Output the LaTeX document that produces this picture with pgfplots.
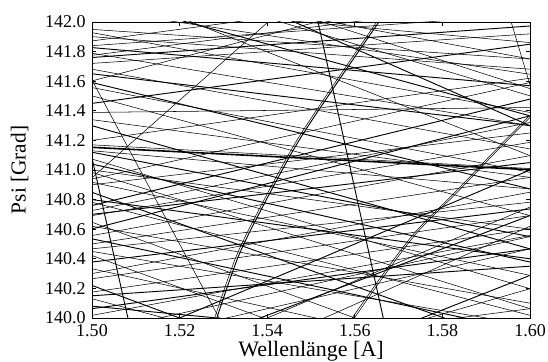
\documentclass[border=0pt]{standalone}
\usepackage{pgfplots}
\pgfplotsset{compat=1.18}
\usepackage{fontspec}
\setmainfont{Liberation Serif}
\begin{document}
\fontsize{13.5}{15}\selectfont
\begin{tikzpicture}
\begin{axis}[
  scale only axis, width=328.5pt, height=222pt,
  xmin=1.50, xmax=1.60, ymin=140.0, ymax=142.0,
  xtick={1.50,1.52,...,1.60}, ytick={140.0,140.2,...,142.0},
  xticklabel style={/pgf/number format/.cd,fixed,fixed zerofill,precision=2},
  yticklabel style={/pgf/number format/.cd,fixed,fixed zerofill,precision=1},
  /pgf/number format/assume math mode=true,
  scaled x ticks=false, scaled y ticks=false,
  tick align=inside, major tick length=3pt, minor tick num=0,
  xtick pos=both, ytick pos=both,
  tick style={black, line width=0.5pt},
  xlabel={\fontsize{16.5}{18}\selectfont Wellenlänge [A]},
  ylabel={\fontsize{16}{18}\selectfont Psi [Grad]},
  xlabel style={at={(axis description cs:0.5,-0.112)}, anchor=center},
  ylabel style={at={(axis description cs:-0.165,0.5)}, anchor=center},
  axis line style={line width=0.6pt},
  cycle list={{black, solid, line width=0.7pt}},
  no marks,
  clip=true,
]
% descending
\addplot coordinates {(1.50,141.928) (1.60,141.389)};
\addplot coordinates {(1.50,141.901) (1.60,141.681)};
\addplot coordinates {(1.50,141.827) (1.60,141.569)};
\addplot coordinates {(1.50,141.789) (1.60,141.299)};
\addplot coordinates {(1.50,141.681) (1.60,141.142)};
\addplot coordinates {(1.50,141.591) (1.60,140.872)};
\addplot coordinates {(1.50,141.557) (1.60,140.984)};
\addplot coordinates {(1.50,141.501) (1.60,140.692)};
\addplot coordinates {(1.50,141.299) (1.60,140.467)};
\addplot coordinates {(1.50,141.130) (1.60,140.872)};
\addplot coordinates {(1.50,141.074) (1.60,140.198)};
\addplot coordinates {(1.50,141.040) (1.60,140.378)};
\addplot coordinates {(1.50,140.984) (1.60,140.063)};
\addplot coordinates {(1.50,140.917) (1.60,140.288)};
\addplot coordinates {(1.50,140.849) (1.60,139.793)};
\addplot coordinates {(1.50,140.782) (1.60,140.018)};
\addplot coordinates {(1.50,140.647) (1.60,139.569)};
\addplot coordinates {(1.50,140.535) (1.60,139.906)};
\addplot coordinates {(1.50,140.422) (1.60,139.344)};
\addplot coordinates {(1.50,140.333) (1.60,139.681)};
\addplot coordinates {(1.50,140.220) (1.60,139.119)};
\addplot coordinates {(1.50,140.130) (1.60,139.344)};
\addplot coordinates {(1.50,142.085) (1.60,141.647)};
\addplot coordinates {(1.50,142.175) (1.60,141.366)};
\addplot coordinates {(1.50,142.378) (1.60,141.501)};
\addplot coordinates {(1.50,142.265) (1.60,141.097)};
\addplot coordinates {(1.50,142.602) (1.60,141.299)};
\addplot coordinates {(1.50,142.130) (1.60,141.861)};
\addplot coordinates {(1.50,141.950) (1.60,141.750)};
\addplot coordinates {(1.50,141.650) (1.60,141.300)};
\addplot coordinates {(1.50,141.340) (1.60,140.950)};
\addplot coordinates {(1.50,141.000) (1.60,140.600)};
\addplot coordinates {(1.50,140.800) (1.60,140.400)};
\addplot coordinates {(1.50,140.620) (1.60,140.100)};
\addplot coordinates {(1.50,140.450) (1.60,139.950)};
\addplot coordinates {(1.50,140.080) (1.60,139.800)};
\addplot coordinates {(1.50,142.300) (1.60,141.750)};
\addplot coordinates {(1.50,142.500) (1.60,141.550)};
\addplot coordinates {(1.50,141.120) (1.60,140.550)};
% ascending
\addplot coordinates {(1.50,141.872) (1.60,142.265)};
\addplot coordinates {(1.50,141.775) (1.60,142.153)};
\addplot coordinates {(1.50,141.760) (1.60,141.973)};
\addplot coordinates {(1.50,141.602) (1.60,142.378)};
\addplot coordinates {(1.50,141.389) (1.60,141.422)};
\addplot+[line width=1.2pt] coordinates {(1.50,141.153) (1.60,141.002)};
\addplot coordinates {(1.50,141.170) (1.60,141.010)};
\addplot coordinates {(1.50,140.939) (1.60,141.591)};
\addplot coordinates {(1.50,140.760) (1.60,141.479)};
\addplot coordinates {(1.50,140.726) (1.60,141.321)};
\addplot coordinates {(1.50,140.692) (1.60,141.187)};
\addplot coordinates {(1.50,140.602) (1.60,141.366)};
\addplot coordinates {(1.50,140.557) (1.60,141.097)};
\addplot coordinates {(1.50,140.467) (1.60,140.782)};
\addplot coordinates {(1.50,140.378) (1.60,140.737)};
\addplot coordinates {(1.50,140.265) (1.60,140.692)};
\addplot coordinates {(1.50,140.175) (1.60,140.602)};
\addplot coordinates {(1.50,140.063) (1.60,140.467)};
\addplot coordinates {(1.50,140.018) (1.60,140.557)};
\addplot coordinates {(1.50,139.793) (1.60,140.467)};
\addplot coordinates {(1.50,139.569) (1.60,140.692)};
\addplot coordinates {(1.50,139.344) (1.60,140.198)};
\addplot coordinates {(1.50,139.681) (1.60,140.063)};
\addplot coordinates {(1.50,139.119) (1.60,140.288)};
\addplot coordinates {(1.50,141.840) (1.60,142.050)};
\addplot coordinates {(1.50,141.720) (1.60,141.920)};
\addplot coordinates {(1.50,141.450) (1.60,141.850)};
\addplot coordinates {(1.50,141.200) (1.60,141.620)};
\addplot coordinates {(1.50,140.900) (1.60,141.250)};
\addplot coordinates {(1.50,140.700) (1.60,141.050)};
\addplot coordinates {(1.50,140.500) (1.60,140.950)};
\addplot coordinates {(1.50,140.300) (1.60,140.850)};
\addplot coordinates {(1.50,140.150) (1.60,140.350)};
\addplot coordinates {(1.50,139.900) (1.60,140.550)};
\addplot coordinates {(1.50,139.500) (1.60,140.750)};
\addplot coordinates {(1.50,139.750) (1.60,141.000)};
\addplot coordinates {(1.50,139.300) (1.60,140.620)};
% steep
\addplot+[smooth] coordinates {(1.5650,142.0) (1.5555,141.591) (1.5465,141.187) (1.5390,140.782) (1.5330,140.422) (1.5280,140.0)};
\addplot+[smooth] coordinates {(1.5655,142.0) (1.5560,141.591) (1.5470,141.187) (1.5395,140.782) (1.5335,140.422) (1.5285,140.0)};
\addplot+[smooth] coordinates {(1.5594,140.0) (1.5663,140.29) (1.5738,140.58) (1.5829,140.85) (1.5910,141.10) (1.60,141.37)};
\addplot+[smooth] coordinates {(1.5599,140.0) (1.5668,140.29) (1.5743,140.58) (1.5834,140.85) (1.5915,141.10) (1.6005,141.37)};
\addplot coordinates {(1.5516,142.0) (1.5665,140.0)};
\addplot coordinates {(1.5957,142.0) (1.60,141.575)};
\addplot coordinates {(1.50,141.608) (1.5290,140.0)};
\addplot coordinates {(1.50,141.081) (1.5082,140.0)};
\addplot coordinates {(1.50,140.948) (1.5402,142.0)};
\end{axis}
\pgfresetboundingbox
\path ([shift={(-69pt,-33pt)}]current axis.south west) rectangle ([shift={(13.5pt,16.5pt)}]current axis.north east);
\end{tikzpicture}
\end{document}
